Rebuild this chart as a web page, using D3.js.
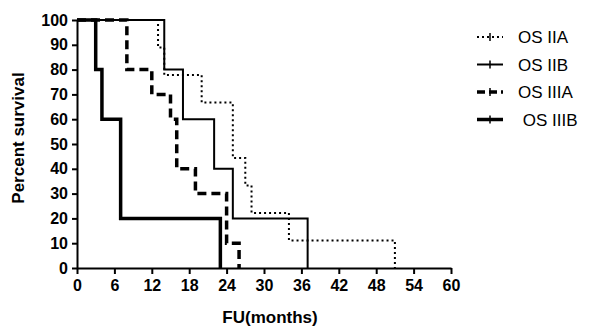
<!DOCTYPE html>
<html>
<head>
<meta charset="utf-8">
<script src="https://cdn.jsdelivr.net/npm/d3@7"></script>
<style>
  body { margin: 0; background: #fff; }
  .curve { fill: none; stroke: #000; }
</style>
</head>
<body>
<script>
//tick labels
var xTicks = [0, 6, 12, 18, 24, 30, 36, 42, 48, 54, 60];
var yTicks = [0, 10, 20, 30, 40, 50, 60, 70, 80, 90, 100];

//survival curves (month of each step, percent after the step)
var seriesNames = ["OS IIA", "OS IIB", "OS IIIA", " OS IIIB"];
var iiaTime = [0, 13, 14, 20, 25, 27, 28, 34, 51];
var iiaSurv = [100, 88.9, 77.8, 66.7, 44.4, 33.3, 22.2, 11.1, 0];
var iibTime = [0, 14, 17, 22, 25, 37];
var iibSurv = [100, 80, 60, 40, 20, 0];
var iiiaTime = [0, 8, 12, 15, 16, 19, 24, 26];
var iiiaSurv = [100, 80, 70, 60, 40, 30, 10, 0];
var iiibTime = [0, 3, 4, 7, 23];
var iiibSurv = [100, 80, 60, 20, 0];

window.onload = drawChart();

function drawChart(){

  var width = 592,
    height = 327;
  var font = "'Liberation Sans', Arial, sans-serif";

  var svg = d3.select("body")
    .append("svg")
    .attr("width", width)
    .attr("height", height);

  var x = d3.scaleLinear().domain([0, 60]).range([77, 451]);
  var y = d3.scaleLinear().domain([0, 100]).range([268, 20]);

  //line styles for each series
  var styles = [
    { width: 2, dash: "2,3" },
    { width: 2, dash: null },
    { width: 3.5, dash: "9,5" },
    { width: 3.5, dash: null }
  ];

  var series = [
    d3.zip(iiaTime, iiaSurv),
    d3.zip(iibTime, iibSurv),
    d3.zip(iiiaTime, iiiaSurv),
    d3.zip(iiibTime, iiibSurv)
  ];

  var line = d3.line()
    .x(function(d) { return x(d[0]); })
    .y(function(d) { return y(d[1]); })
    .curve(d3.curveStepAfter);

  svg.selectAll(".curve")
    .data(series)
    .enter()
    .append("path")
    .attr("class", "curve")
    .attr("d", line)
    .attr("stroke-width", function(d, i) { return styles[i].width; })
    .attr("stroke-dasharray", function(d, i) { return styles[i].dash; });

  //axes
  var xAxis = svg.append("g")
    .attr("transform", "translate(0," + y(0) + ")")
    .call(d3.axisBottom(x).tickValues(xTicks).tickSize(6).tickSizeOuter(0).tickPadding(6));

  var yAxis = svg.append("g")
    .attr("transform", "translate(" + x(0) + ",0)")
    .call(d3.axisLeft(y).tickValues(yTicks).tickSize(5).tickSizeOuter(0).tickPadding(4));

  svg.selectAll(".domain, .tick line")
    .attr("stroke", "#000")
    .attr("stroke-width", 2);

  svg.selectAll(".tick text")
    .attr("fill", "#000")
    .style("font-family", font)
    .style("font-weight", "bold")
    .style("font-size", "16px");

  //axis titles
  svg.append("text")
    .attr("x", 270)
    .attr("y", 323)
    .attr("text-anchor", "middle")
    .style("font-family", font)
    .style("font-weight", "bold")
    .style("font-size", "17px")
    .text("FU(months)");

  svg.append("text")
    .attr("transform", "translate(24,138) rotate(-90)")
    .attr("text-anchor", "middle")
    .style("font-family", font)
    .style("font-weight", "bold")
    .style("font-size", "17px")
    .text("Percent survival");

  //legend
  var legend = svg.selectAll(".legend")
    .data(seriesNames)
    .enter()
    .append("g")
    .attr("class", "legend")
    .attr("transform", function(d, i) { return "translate(477," + (37 + i * 27.5) + ")"; });

  legend.append("line")
    .attr("x1", 0).attr("x2", 26)
    .attr("y1", 0).attr("y2", 0)
    .attr("stroke", "#000")
    .attr("stroke-width", function(d, i) { return styles[i].width; })
    .attr("stroke-dasharray", function(d, i) { return styles[i].dash ? (i == 0 ? "2,3" : "8,4") : null; });

  legend.append("line")
    .attr("x1", 13).attr("x2", 13)
    .attr("y1", -4).attr("y2", 4)
    .attr("stroke", "#000")
    .attr("stroke-width", 1.5);

  legend.append("text")
    .attr("x", 41)
    .attr("y", 6)
    .style("white-space", "pre")
    .style("font-family", font)
    .style("font-size", "17px")
    .text(function(d) { return d; });
}
</script>
</body>
</html>
